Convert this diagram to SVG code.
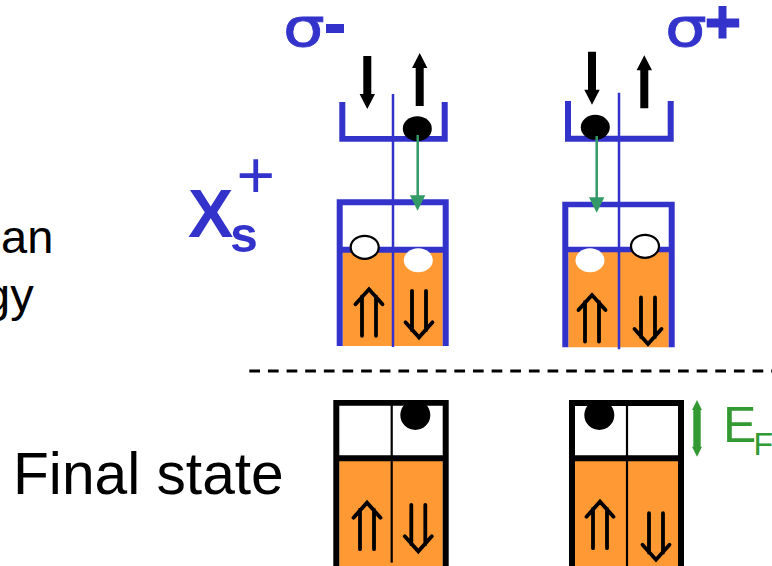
<svg xmlns="http://www.w3.org/2000/svg" width="772" height="566" viewBox="0 0 772 566">
<style>
text{font-family:"Liberation Sans",Arial,sans-serif}
.b{fill:#3333CC}
.o{fill:#FF9933}
.k{fill:#000}
.w{fill:#fff}
.t{fill:#000;font-size:47px}
.g{fill:#339933}
.sg{fill:#3333CC;font-size:54px;font-family:"DejaVu Sans",sans-serif;stroke:#3333CC;stroke-width:0.8}
.ln{stroke:#3333CC;stroke-width:2.5}
.kl{stroke:#000;stroke-width:2.2}
.gl{stroke:#339966;stroke-width:2.5}
.dbl{fill:none;stroke:#000;stroke-width:3.8;stroke-linecap:round;stroke-linejoin:miter}
</style>
<defs>
<path id="dup" class="dbl" d="M-7 47.5V8M7 47.5V8M-13.5 16L0 1L13.5 16"/>
<path id="ddn" class="dbl" d="M-7 -47.5V-8M7 -47.5V-8M-13.5 -16L0 -1L13.5 -16"/>
<polygon id="sdn" points="-4,-53 4,-53 4,-15 7.7,-15 0,0 -7.7,-15 -4,-15"/>
<polygon id="sup" points="-4,53 4,53 4,15 7.7,15 0,0 -7.7,15 -4,15"/>
<polygon id="gh" fill="#339966" points="-7.7,0 7.7,0 0,15.4"/>
</defs>

<text id="txt-an" class="t" x="1" y="253">an</text>
<text id="txt-gy" class="t" x="-16" y="311">gy</text>
<text id="txt-final" x="13" y="494" font-size="58.7" fill="#000">Final state</text>

<g id="label-xs">
<text class="b" x="188" y="236.7" font-size="68" font-weight="700">X</text>
<text class="b" x="230" y="251.5" font-size="50" font-weight="700">s</text>
<text class="b" x="236.5" y="198" font-size="66">+</text>
</g>
<g id="label-sigma-minus"><text class="sg" transform="translate(283 46) scale(1.22 1)">σ</text><rect class="b" x="326" y="24" width="18" height="9"/></g>
<g id="label-sigma-plus"><text class="sg" transform="translate(665 46) scale(1.22 1)">σ</text><path class="b" d="M718.5 6h8v12.5h12.7v9h-12.7v11h-8v-11h-11.8v-9h11.8z"/></g>

<g id="well-minus">
<path class="b" d="M339.3 102h6v34h96.4v-34h6v39.7h-108.4z"/>
<use href="#sdn" class="k" x="367.3" y="109"/>
<use href="#sup" class="k" x="419.7" y="53"/>
<ellipse class="k" cx="417.3" cy="128.7" rx="14.5" ry="12.5"/>
</g>
<g id="well-plus">
<path class="b" d="M565 101h6v34.7h96.7v-34.7h6v40.7h-108.7z"/>
<use href="#sdn" class="k" x="592" y="104.7"/>
<use href="#sup" class="k" x="644.3" y="55.3"/>
<ellipse class="k" cx="595.3" cy="127.3" rx="14.5" ry="12.5"/>
</g>

<g id="box-minus">
<rect class="o" x="342.7" y="252" width="100" height="94"/>
<path class="b" d="M336.7 346V199.3h112V346h-6V252.7h-100V346zM342.7 205.3v41.4h100v-41.4z" fill-rule="evenodd"/>
<ellipse class="w" cx="418.3" cy="260.3" rx="14.5" ry="12"/>
<ellipse class="w" cx="364.7" cy="247.3" rx="14" ry="11.5" stroke="#000" stroke-width="2.2"/>
<use href="#dup" x="369" y="288.3"/>
<use href="#ddn" x="419" y="338.3"/>
</g>
<g id="box-plus">
<rect class="o" x="568.3" y="252" width="100.4" height="95.3"/>
<path class="b" d="M562.3 347.3V201.7h112.4V347.3h-6V252.3h-100.4V347.3zM568.3 207.3v39.4h100.4v-39.4z" fill-rule="evenodd"/>
<ellipse class="w" cx="590" cy="260.3" rx="14.5" ry="12"/>
<ellipse class="w" cx="645" cy="246.3" rx="14" ry="11.5" stroke="#000" stroke-width="2.2"/>
<use href="#dup" x="592" y="294"/>
<use href="#ddn" x="648" y="345"/>
</g>

<g id="final-left">
<rect class="o" x="339.3" y="461" width="103.4" height="105"/>
<path class="k" d="M333.3 566V400h115.4V566h-6V461.3h-103.4V566zM339.3 405.7v49.6h103.4v-49.6z" fill-rule="evenodd"/>
<circle class="k" cx="415.3" cy="415" r="15"/>
<use href="#dup" x="367" y="501.7"/>
<use href="#ddn" x="418.3" y="552.3"/>
</g>
<g id="final-right">
<rect class="o" x="575" y="461" width="103" height="105"/>
<path class="k" d="M569 566V400h115V566h-6V461.3h-103V566zM575 406v49.3h103v-49.3z" fill-rule="evenodd"/>
<circle class="k" cx="599.3" cy="415" r="15"/>
<use href="#dup" x="600" y="500.7"/>
<use href="#ddn" x="656" y="560.7"/>
</g>

<g id="connectors">
<line class="ln" x1="393" y1="94" x2="393" y2="347"/>
<line class="ln" x1="619" y1="92.7" x2="619" y2="349.3"/>
<line class="kl" x1="391.7" y1="400" x2="391.7" y2="562.7"/>
<line class="kl" x1="627" y1="400" x2="627" y2="566"/>
<line class="gl" x1="417.7" y1="135" x2="417.7" y2="197"/>
<use href="#gh" x="417.6" y="195.3"/>
<line class="gl" x1="596.7" y1="136" x2="596.7" y2="199"/>
<use href="#gh" x="596.7" y="197.3"/>
<line stroke="#000" stroke-width="2.8" stroke-dasharray="10.7 7.94" x1="249.3" y1="371" x2="772" y2="371"/>
<path class="g" d="M697 400l5 10h-1.3v36.7h1.3l-5 10l-5-10h1.3v-36.7h-1.3z"/>
</g>

<g id="label-ef">
<text class="g" x="723" y="441.7" font-size="50">E</text>
<text class="g" x="753.5" y="455" font-size="32">F</text>
</g>
</svg>
